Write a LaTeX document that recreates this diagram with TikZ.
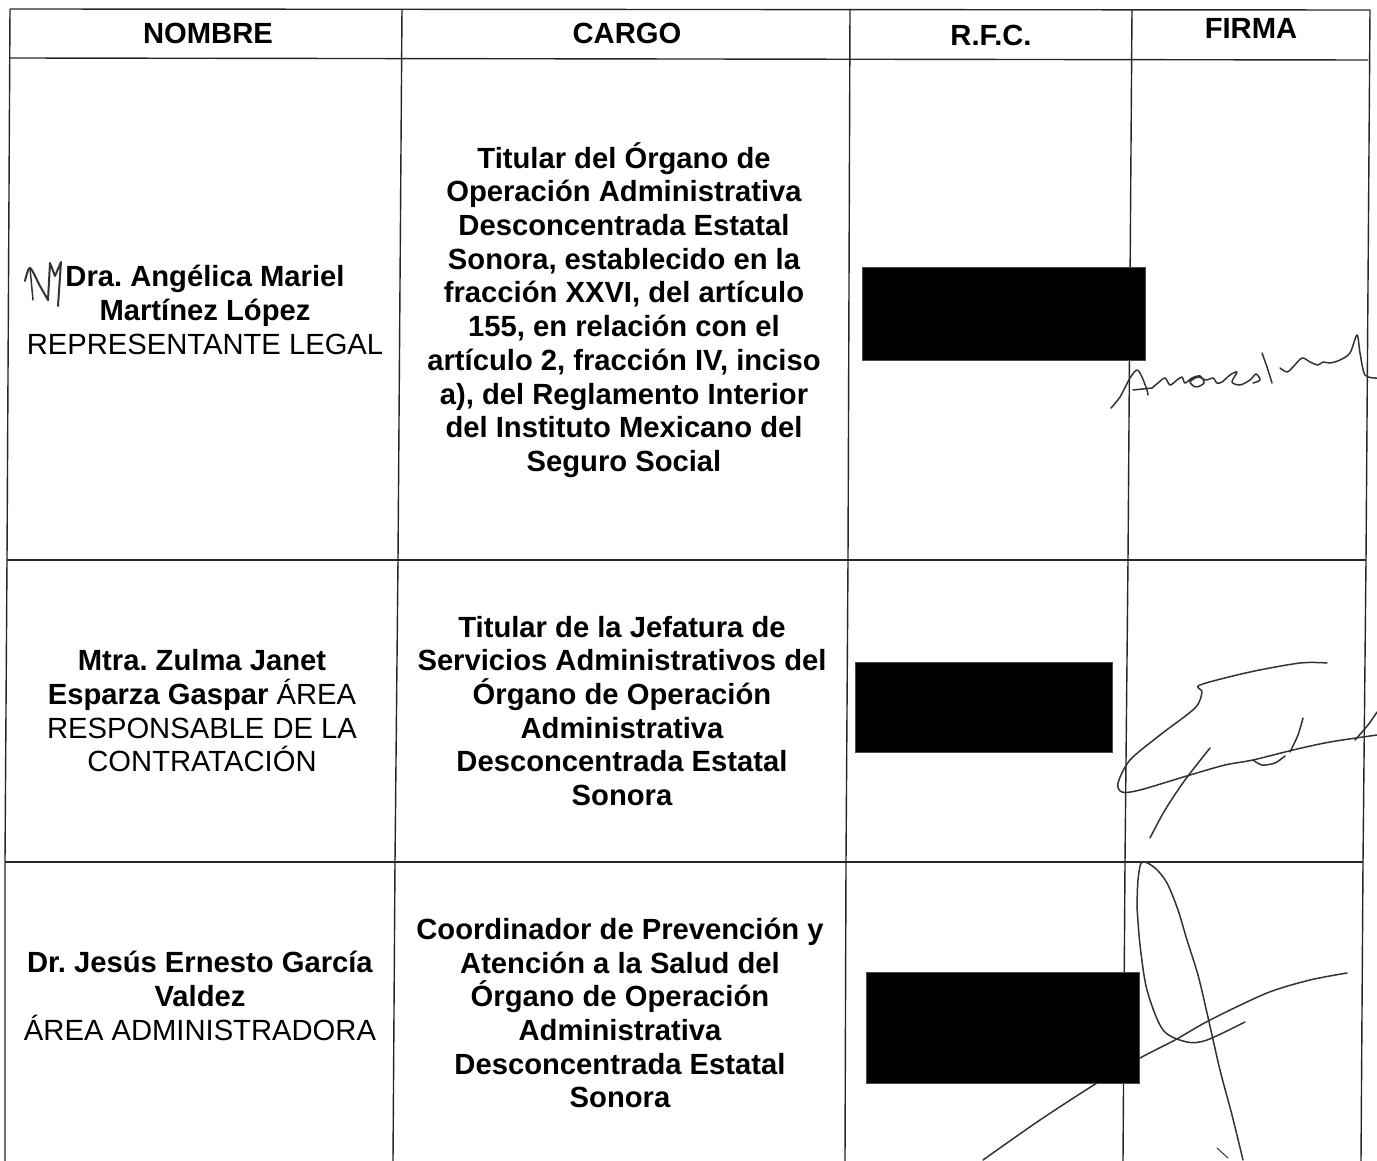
\documentclass[tikz,border=0pt]{standalone}
\usepackage{fontspec}
\setmainfont{Liberation Sans}
\frenchspacing
\begin{document}
\begin{tikzpicture}[x=1pt,y=-1pt,
  grid/.style={line width=1.4pt,black!85},
  cell/.style={inner sep=0pt,align=center,font=\fontsize{29.2}{33.7}\selectfont\frenchspacing},
  hdr/.style={inner sep=0pt,font=\fontsize{29.2}{33.7}\selectfont\bfseries},
  redact/.style={fill=black,draw=black!70,line width=0.8pt},
  sig/.style={line width=1.5pt,black!80,line cap=round,line join=round}]
\useasboundingbox (0,0) rectangle (1377,1161);
% grid
\draw[grid] (10,9) -- (1370,10);
\draw[grid] (10,58) -- (1368,60);
\draw[grid] (7,560) -- (1366,560);
\draw[grid] (5,862) -- (1363,862);
\draw[grid] (10,9) -- (7,560) -- (5,862) -- (5,1161);
\draw[grid] (402,9) -- (398,560) -- (395,862) -- (393,1161);
\draw[grid] (850,9) -- (848,560) -- (846,862) -- (845,1161);
\draw[grid] (1132,10) -- (1128,560) -- (1125,862) -- (1123,1161);
\draw[grid] (1370,10) -- (1366,560) -- (1363,862) -- (1361,1161);
% headers
\node[hdr] (hnombre) at (208,33) {NOMBRE};
\node[hdr] (hcargo) at (627,33) {CARGO};
\node[hdr] (hrfc) at (991,35) {R.F.C.};
\node[hdr] (hfirma) at (1251,28) {FIRMA};
% row 1
\node[cell] (n1) at (205,310) {\textbf{Dra. Angélica Mariel}\\\textbf{Martínez López}\\REPRESENTANTE LEGAL};
\node[cell,font=\fontsize{29.2}{33.7}\selectfont\bfseries\frenchspacing] (c1) at (624,310) {Titular del Órgano de\\Operación Administrativa\\Desconcentrada Estatal\\Sonora, establecido en la\\fracción XXVI, del artículo\\155, en relación con el\\artículo 2, fracción IV, inciso\\a), del Reglamento Interior\\del Instituto Mexicano del\\Seguro Social};
% row 2
\node[cell] (n2) at (202,711) {\textbf{Mtra. Zulma Janet}\\\textbf{Esparza Gaspar} ÁREA\\RESPONSABLE DE LA\\CONTRATACIÓN};
\node[cell,font=\fontsize{29.2}{33.7}\selectfont\bfseries] (c2) at (622,711) {Titular de la Jefatura de\\Servicios Administrativos del\\Órgano de Operación\\Administrativa\\Desconcentrada Estatal\\Sonora};
% row 3
\node[cell] (n3) at (200,996) {\textbf{Dr. Jesús Ernesto García}\\\textbf{Valdez}\\ÁREA ADMINISTRADORA};
\node[cell,font=\fontsize{29.2}{33.7}\selectfont\bfseries] (c3) at (620,1013) {Coordinador de Prevención y\\Atención a la Salud del\\Órgano de Operación\\Administrativa\\Desconcentrada Estatal\\Sonora};
% initial
\draw[sig,line width=2pt] plot[smooth] coordinates {(25,281) (30,268) (40,286) (48,300)};
\draw[sig,line width=2pt] (48,300) -- (50,263) -- (55,276) -- (61,262) -- (58,306);
\draw[sig,line width=1.5pt] (30,268) -- (33,300);
% signature 1
\draw[sig] plot[smooth] coordinates {(1111,408) (1120,397) (1130,378) (1137,370) (1142,377) (1147,390) (1148,395)};
\draw[sig] (1133,390) -- (1152,388);
\draw[sig] plot[smooth] coordinates {(1152,388) (1158,383) (1165,378) (1170,385) (1177,380) (1182,377) (1185,383) (1192,378) (1200,376) (1204,383) (1196,387) (1190,382) (1198,377) (1206,380) (1213,378) (1217,383) (1222,382) (1230,375) (1237,372) (1232,382) (1240,385) (1250,380) (1256,374) (1260,380) (1253,383)};
\draw[sig] plot[smooth] coordinates {(1262,353) (1267,367) (1272,383)};
\draw[sig] plot[smooth] coordinates {(1280,368) (1287,372) (1293,367) (1302,358) (1310,362) (1318,365) (1323,362) (1330,363) (1340,360) (1350,353) (1357,335) (1360,353) (1365,375) (1377,378)};
% signature 2
\draw[sig] plot[smooth] coordinates {(1327,663) (1300,663) (1250,672) (1200,685) (1202,692) (1195,708) (1160,735) (1130,760) (1118,783) (1122,792) (1140,790) (1190,775) (1225,765) (1253,760) (1293,750) (1330,742) (1377,735)};
\draw[sig] plot[smooth] coordinates {(1253,760) (1262,765) (1275,763) (1285,756)};
\draw[sig] plot[smooth] coordinates {(1150,838) (1165,810) (1185,780) (1210,748)};
\draw[sig] plot[smooth] coordinates {(1303,718) (1298,735) (1290,752)};
\draw[sig] plot[smooth] coordinates {(1355,740) (1368,725) (1377,712)};
% signature 3
\draw[sig] plot[smooth] coordinates {(1137,907) (1138,880) (1142,862) (1155,868) (1167,883) (1178,910) (1187,940) (1198,975) (1207,1013) (1220,1070) (1232,1115) (1243,1160)};
\draw[sig] plot[smooth] coordinates {(1137,907) (1140,945) (1147,990) (1163,1030) (1187,1042) (1207,1040) (1245,1022)};
\draw[sig] plot[smooth] coordinates {(983,1160) (1040,1120) (1097,1083) (1140,1058) (1175,1040) (1210,1020) (1267,993) (1310,980) (1347,973)};
\draw[sig,line width=1pt] (1217,1148) -- (1228,1158);
% redactions
\fill[redact] (862,267) rectangle (1145,360);
\fill[redact] (855,662) rectangle (1112,752);
\fill[redact] (866,972) rectangle (1139,1083);
\end{tikzpicture}
\end{document}
